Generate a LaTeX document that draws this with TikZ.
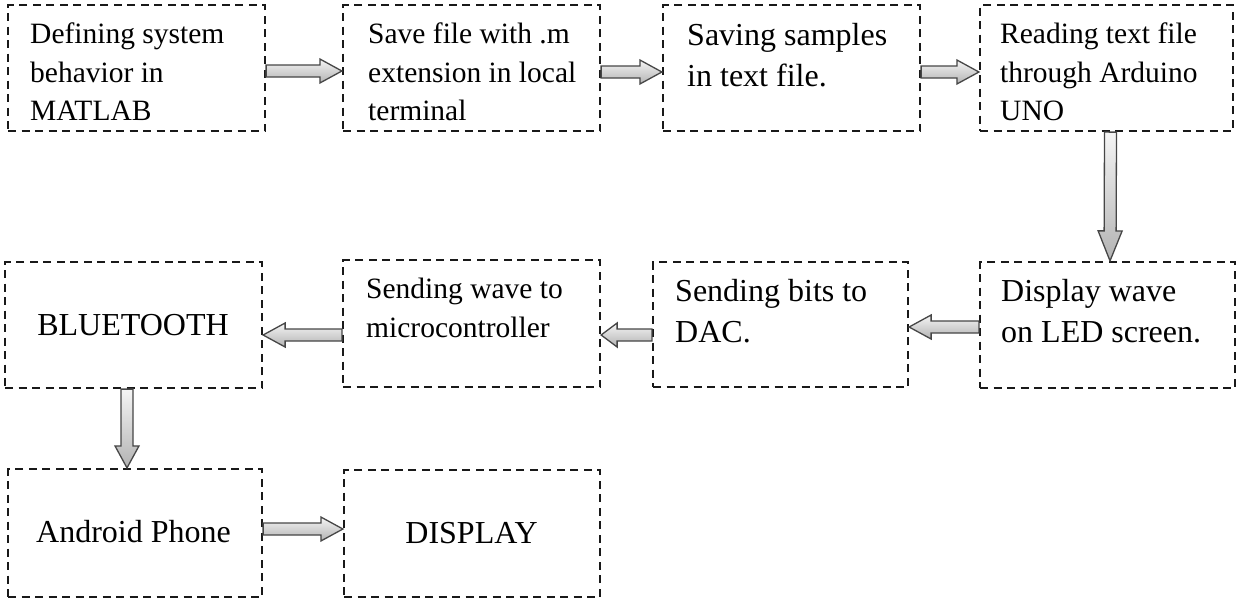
\documentclass[tikz,border=0pt]{standalone}
\usepackage{fontspec}
\setmainfont{Liberation Serif}
\usetikzlibrary{calc}

\tikzset{
  stepbox/.style={draw=black!90, line width=2.2pt, dash pattern=on 8pt off 5.5pt,
    inner sep=0pt},
  smalltxt/.style={font=\fontsize{29.5}{38.5}\selectfont, align=left, inner sep=0pt,
    anchor=north west},
  bigtxt/.style={font=\fontsize{32}{41}\selectfont, align=left, inner sep=0pt,
    anchor=north west},
  flow/.style={draw=gray!55!black, line width=1.3pt, top color=gray!8,
    bottom color=gray!60}
}

% block arrow from #2 to #3, head length #1
\newcommand{\fatarrow}[3][22pt]{%
  \coordinate (fa-s) at (#2);
  \coordinate (fa-e) at (#3);
  \coordinate (fa-h) at ($(fa-e)!#1!(fa-s)$);
  \path[flow] ($(fa-s)!6pt!90:(fa-e)$) -- ($(fa-h)!6pt!90:(fa-e)$)
    -- ($(fa-h)!12pt!90:(fa-e)$) -- (fa-e) -- ($(fa-h)!12pt!-90:(fa-e)$)
    -- ($(fa-h)!6pt!-90:(fa-e)$) -- ($(fa-s)!6pt!-90:(fa-e)$) -- cycle;}

\begin{document}
\begin{tikzpicture}[x=1pt, y=-1pt]
  \useasboundingbox (0,0) rectangle (1238,598);

  % ---- first row ----
  \node[stepbox, minimum width=257pt, minimum height=126pt] (define) at (136.5,68) {};
  \node[stepbox, minimum width=257pt, minimum height=126pt] (save) at (471.5,68) {};
  \node[stepbox, minimum width=257pt, minimum height=126pt] (samples) at (791.5,68) {};
  \node[stepbox, minimum width=253pt, minimum height=126pt] (arduino) at (1106.5,68) {};

  \node[smalltxt] (define-t) at (30,23) {Defining system\\behavior in\\MATLAB};
  \node[smalltxt] (save-t) at (368,23) {Save file with .m\\extension in local\\terminal};
  \node[bigtxt] (samples-t) at (687,23) {Saving samples\\in text file.};
  \node[smalltxt] (arduino-t) at (1000,23) {Reading text file\\through Arduino\\UNO};

  % ---- second row ----
  \node[stepbox, minimum width=257pt, minimum height=126pt] (bluetooth) at (133.5,325) {};
  \node[stepbox, minimum width=257pt, minimum height=127pt] (micro) at (471.5,323.5) {};
  \node[stepbox, minimum width=255pt, minimum height=125pt] (dac) at (780.5,324.5) {};
  \node[stepbox, minimum width=255pt, minimum height=126pt] (led) at (1107.5,325) {};

  \node[bigtxt, anchor=base] (bluetooth-t) at (133,335) {BLUETOOTH};
  \node[smalltxt] (micro-t) at (366,278) {Sending wave to\\microcontroller};
  \node[bigtxt] (dac-t) at (675,279) {Sending bits to\\DAC.};
  \node[bigtxt] (led-t) at (1001,279) {Display wave\\on LED screen.};

  % ---- third row ----
  \node[stepbox, minimum width=254pt, minimum height=128pt] (phone) at (135,533) {};
  \node[stepbox, minimum width=256pt, minimum height=127pt] (display) at (472,533.5) {};

  \node[bigtxt, anchor=base] (phone-t) at (133.5,542) {Android Phone};
  \node[bigtxt, anchor=base] (display-t) at (471.5,543) {DISPLAY};

  % ---- arrows ----
  \fatarrow{[yshift=-3pt]define.east}{[yshift=-3pt]save.west}
  \fatarrow{[yshift=-4pt]save.east}{[yshift=-4pt]samples.west}
  \fatarrow{[yshift=-4pt]samples.east}{[yshift=-4pt]arduino.west}
  \fatarrow[30pt]{[xshift=4pt]arduino.south}{[xshift=2.5pt]led.north}
  \fatarrow{[yshift=-2pt]led.west}{[yshift=-2.5pt]dac.east}
  \fatarrow[16pt]{[yshift=-10.5pt]dac.west}{[yshift=-11.5pt]micro.east}
  \fatarrow{[yshift=-11.5pt]micro.west}{[yshift=-10pt]bluetooth.east}
  \fatarrow{[xshift=-6.5pt]bluetooth.south}{[xshift=-8pt]phone.north}
  \fatarrow{[yshift=4pt]phone.east}{[yshift=4.5pt]display.west}
\end{tikzpicture}
\end{document}
